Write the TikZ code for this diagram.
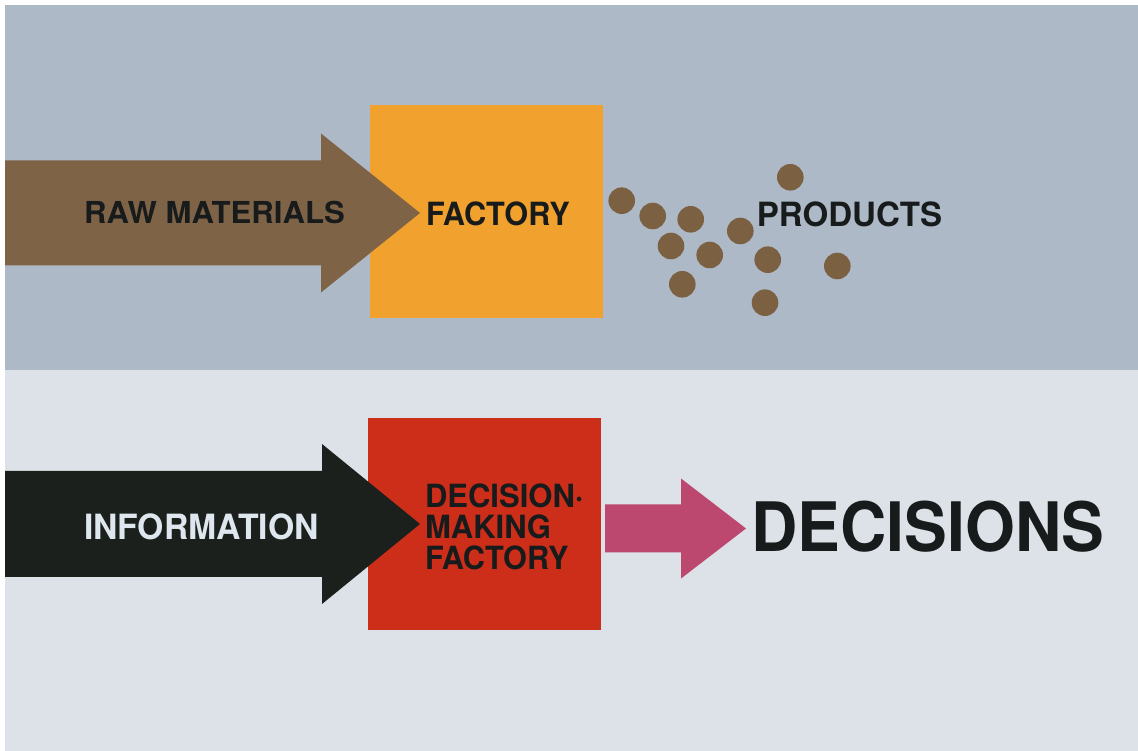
\documentclass[tikz,border=0pt]{standalone}
\usepackage{fontspec}
\setmainfont{TeX Gyre Heros}
\usepackage{graphicx}

% narrower or wider lettering
\newcommand{\squeeze}[2]{\scalebox{#1}[1]{#2}}

\begin{document}
\begin{tikzpicture}[every node/.style={inner sep=0pt, outer sep=0pt, anchor=base},
    word/.style={font=\fontsize{9.1}{9}\selectfont\bfseries, text=ink},
    dot/.style={fill=bean}]
    \definecolor{slate}{RGB}{173,185,199}
    \definecolor{paper}{RGB}{220,226,232}
    \definecolor{bark}{RGB}{126,99,70}
    \definecolor{bean}{RGB}{124,96,66}
    \definecolor{amber}{RGB}{240,161,46}
    \definecolor{soot}{RGB}{28,32,28}
    \definecolor{brick}{RGB}{204,46,26}
    \definecolor{rose}{RGB}{188,72,112}
    \definecolor{ink}{RGB}{24,27,27}
    \definecolor{chalk}{RGB}{222,230,238}
    \useasboundingbox (0,0) rectangle (11.38,7.51);
    \fill[white] (0,0) rectangle (11.38,7.51);
    % upper and lower panels
    \fill[slate] (0.05,3.81) rectangle (11.38,7.46);
    \fill[paper] (0.05,0) rectangle (11.38,3.81);
    % Factory
    \fill[amber] (3.70,4.33) rectangle (6.03,6.46);
    \fill[bark] (0.05,5.905) -- (3.21,5.905) -- (3.21,6.175) -- (4.20,5.38)
        -- (3.21,4.585) -- (3.21,4.855) -- (0.05,4.855) -- cycle;
    \node[word] (raw) at (2.145,5.27) {\fontsize{8.6}{9}\selectfont\squeeze{1.03}{RAW MATERIALS}};
    \node[word] (factory) at (4.98,5.25) {\squeeze{0.96}{FACTORY}};
    % products
    \fill[dot] (6.217,5.503) circle (0.133);
    \fill[dot] (6.527,5.350) circle (0.133);
    \fill[dot] (6.907,5.317) circle (0.133);
    \fill[dot] (6.710,5.050) circle (0.133);
    \fill[dot] (7.097,4.960) circle (0.133);
    \fill[dot] (6.823,4.667) circle (0.133);
    \fill[dot] (7.403,5.200) circle (0.133);
    \fill[dot] (7.903,5.737) circle (0.133);
    \fill[dot] (7.677,4.913) circle (0.133);
    \fill[dot] (7.650,4.483) circle (0.133);
    \fill[dot] (8.373,4.850) circle (0.133);
    \node[word] (products) at (8.495,5.24) {\fontsize{9.5}{9}\selectfont\squeeze{0.99}{PRODUCTS}};
    % Decision-making factory
    \fill[brick] (3.68,1.21) rectangle (6.01,3.33);
    \fill[soot] (0.05,2.80) -- (3.22,2.80) -- (3.22,3.07) -- (4.20,2.27)
        -- (3.22,1.47) -- (3.22,1.74) -- (0.05,1.74) -- cycle;
    \node[word, text=chalk] (info) at (2.015,2.11) {\fontsize{9.9}{9}\selectfont\squeeze{0.97}{INFORMATION}};
    \node[word, anchor=base west] (line1) at (4.25,2.43) {\squeeze{0.97}{DECISION·}};
    \node[word, anchor=base west] (line2) at (4.25,2.12) {\squeeze{0.97}{MAKING}};
    \node[word, anchor=base west] (line3) at (4.25,1.81) {\squeeze{0.96}{FACTORY}};
    % output
    \fill[rose] (6.05,2.465) -- (6.81,2.465) -- (6.81,2.725) -- (7.46,2.225)
        -- (6.81,1.725) -- (6.81,1.985) -- (6.05,1.985) -- cycle;
    \node[word, anchor=base west] (decisions) at (7.515,1.99) {\fontsize{19.4}{21}\selectfont\squeeze{0.94}{DECISIONS}};
\end{tikzpicture}
\end{document}
